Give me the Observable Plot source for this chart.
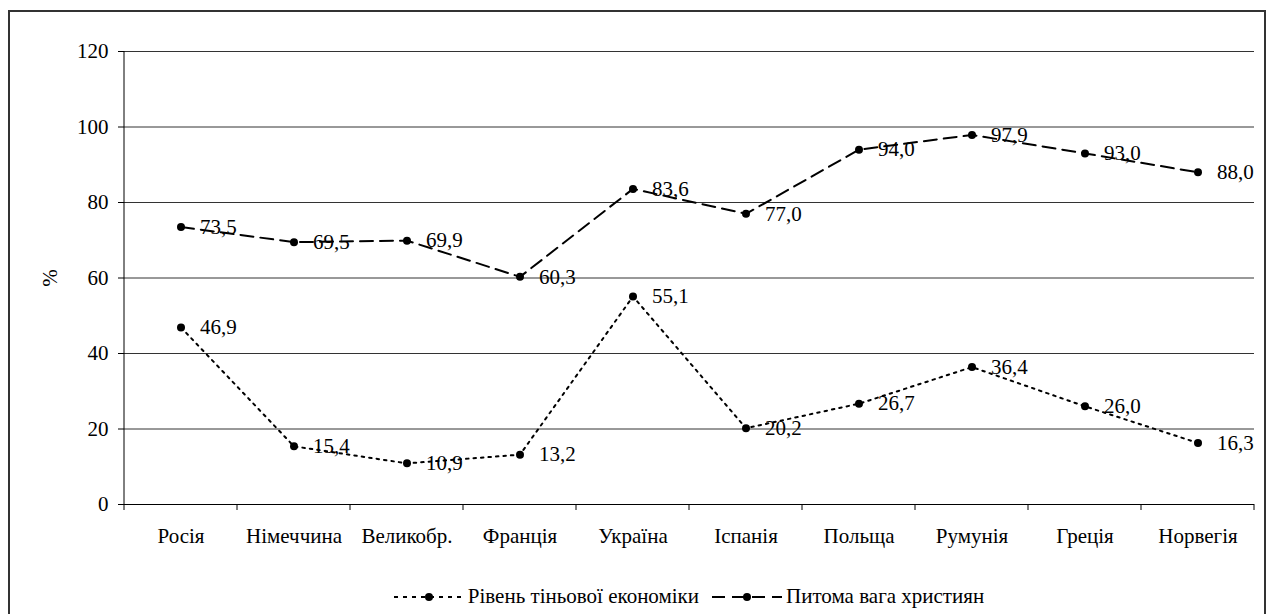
<!DOCTYPE html>
<html>
<head>
<meta charset="utf-8">
<script src="https://cdn.jsdelivr.net/npm/d3@7"></script>
<script src="https://cdn.jsdelivr.net/npm/@observablehq/plot@0.6"></script>
<style>
  html, body { margin: 0; padding: 0; background: #fff; }
  body { width: 1270px; height: 614px; position: relative; overflow: hidden; font-family: "Liberation Serif", "Tinos", "DejaVu Serif", "Noto Serif", "Times New Roman", serif; }
  #frame { position: absolute; left: 8px; top: 10px; width: 1258px; height: 620px; border: 2px solid #333; box-sizing: border-box; }
  #chart { position: absolute; left: 0; top: 0; }
  #legend { position: absolute; left: 124px; width: 1130px; top: 584px; display: flex; justify-content: center; align-items: center; font-size: 21px; color: #000; }
  #legend .item { display: flex; align-items: center; }
  #legend svg { margin-right: 4px; }
  #chart svg text { font-family: "Liberation Serif", "Tinos", "DejaVu Serif", "Noto Serif", "Times New Roman", serif; }
</style>
</head>
<body>
<div id="frame"></div>
<div id="chart"></div>
<div id="legend"></div>
<script>
const categories = ["Росія", "Німеччина", "Великобр.", "Франція", "Україна", "Іспанія", "Польща", "Румунія", "Греція", "Норвегія"];
const shadowEconomy = [46.9, 15.4, 10.9, 13.2, 55.1, 20.2, 26.7, 36.4, 26.0, 16.3];
const christians = [73.5, 69.5, 69.9, 60.3, 83.6, 77.0, 94.0, 97.9, 93.0, 88.0];
const seriesNames = ["Рівень тіньової економіки", "Питома вага християн"];
const yTicks = [0, 20, 40, 60, 80, 100, 120];
const yLabel = "%";

const series = [
  {name: seriesNames[0], values: shadowEconomy, dash: "2.5,5"},
  {name: seriesNames[1], values: christians, dash: "13,7"}
];
const rows = series.flatMap(s => s.values.map((v, i) => ({series: s.name, cat: categories[i], value: v})));
const fmt = v => v.toFixed(1).replace(".", ",");
const FONT = "'Liberation Serif', Tinos, 'DejaVu Serif', 'Noto Serif', 'Times New Roman', serif";

const axisTicks = (index, scales, values, dims) => {
  const x = scales.x, y = scales.y;
  const g = d3.create("svg:g").attr("stroke", "#000").attr("stroke-width", 1);
  const bw = x.bandwidth ? x.bandwidth() : (dims.width - dims.marginLeft - dims.marginRight) / categories.length;
  const xs = categories.map(c => x(c) - (x.bandwidth ? 0 : bw / 2));
  xs.push(xs[xs.length - 1] + bw);
  const y0 = y(0);
  for (const xv of xs) {
    g.append("line").attr("x1", xv).attr("x2", xv).attr("y1", y0).attr("y2", y0 + 6);
  }
  g.append("line").attr("x1", xs[0]).attr("x2", xs[0]).attr("y1", y(0)).attr("y2", y(yTicks[yTicks.length - 1]));
  return g.node();
};

const marks = [
  Plot.gridY(yTicks, {stroke: "#333", strokeOpacity: 1, strokeWidth: 1}),
  Plot.ruleY([0], {stroke: "#000"}),
  axisTicks,
  Plot.axisY({ticks: yTicks, tickSize: 6, tickPadding: 10, fontSize: 21, fontFamily: FONT, label: yLabel, labelAnchor: "center", labelOffset: 82, labelArrow: "none"}),
  Plot.axisX({tickSize: 0, tickPadding: 24, fontSize: 21, fontFamily: FONT, label: null})
];
for (const s of series) {
  const data = rows.filter(r => r.series === s.name);
  marks.push(
    Plot.line(data, {x: "cat", y: "value", stroke: "#000", strokeWidth: 2, strokeDasharray: s.dash}),
    Plot.dot(data, {x: "cat", y: "value", r: 4, fill: "#000", stroke: "none"}),
    Plot.text(data, {x: "cat", y: "value", text: d => fmt(d.value), textAnchor: "start", dx: 19, fontSize: 21, fontFamily: FONT, fill: "#000"})
  );
}

const chart = Plot.plot({
  width: 1270,
  height: 560,
  marginLeft: 124,
  marginRight: 16,
  marginTop: 51,
  marginBottom: 56,
  style: {background: "transparent", fontFamily: FONT, fontSize: "21px", color: "#000", overflow: "visible"},
  x: {type: "band", domain: categories, padding: 0, axis: null},
  y: {domain: [0, 120], axis: null},
  marks
});
document.getElementById("chart").appendChild(chart);

const legend = document.getElementById("legend");
series.forEach((s, i) => {
  const item = document.createElement("div");
  item.className = "item";
  if (i > 0) item.style.marginLeft = "13px";
  const sw = d3.create("svg").attr("width", 70).attr("height", 12);
  sw.append("line").attr("x1", 0).attr("x2", 70).attr("y1", 6).attr("y2", 6)
    .attr("stroke", "#000").attr("stroke-width", 2).attr("stroke-dasharray", i === 0 ? "4,5" : "13,7");
  sw.append("circle").attr("cx", 35).attr("cy", 6).attr("r", 4).attr("fill", "#000");
  item.appendChild(sw.node());
  const t = document.createElement("span");
  t.textContent = s.name;
  item.appendChild(t);
  legend.appendChild(item);
});
</script>
</body>
</html>
